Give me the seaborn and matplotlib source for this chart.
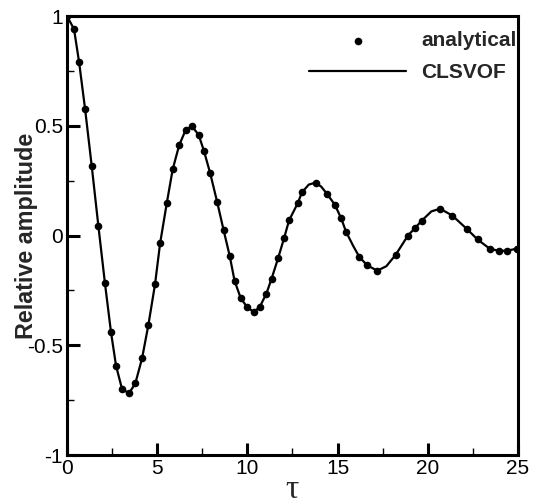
import numpy as np
import pandas as pd
import matplotlib
matplotlib.use("Agg")
import matplotlib.pyplot as plt
from matplotlib.ticker import MultipleLocator, FuncFormatter
import seaborn as sns

# analytical points
tau_analytical = [0, 0.39, 0.67, 1.0, 1.37, 1.74, 2.1, 2.44, 2.72, 3.05, 3.44, 3.79, 4.16,
                  4.51, 4.88, 5.16, 5.53, 5.86, 6.22, 6.58, 6.93, 7.3, 7.59, 7.94, 8.32,
                  8.68, 9.02, 9.29, 9.63, 9.99, 10.35, 10.68, 11.05, 11.34, 11.7, 12.04,
                  12.31, 12.79, 13.02, 13.78, 14.41, 14.85, 15.2, 15.47, 16.2, 16.64,
                  17.2, 18.22, 18.9, 19.29, 19.67, 20.68, 21.36, 22.15, 22.76, 23.43,
                  23.95, 24.4, 24.93]
amp_analytical = [1.0, 0.94, 0.79, 0.578, 0.317, 0.043, -0.215, -0.441, -0.594, -0.699,
                  -0.719, -0.673, -0.56, -0.408, -0.222, -0.036, 0.147, 0.302, 0.412,
                  0.481, 0.498, 0.458, 0.386, 0.283, 0.154, 0.025, -0.093, -0.207,
                  -0.285, -0.327, -0.348, -0.326, -0.265, -0.197, -0.104, -0.01, 0.069,
                  0.147, 0.196, 0.241, 0.19, 0.14, 0.078, 0.017, -0.097, -0.136, -0.16,
                  -0.088, 0.0, 0.034, 0.068, 0.122, 0.091, 0.031, -0.018, -0.06, -0.07,
                  -0.069, -0.06]

# CLSVOF curve
tau_clsvof = [0, 0.39, 0.67, 1.0, 1.37, 1.74, 2.1, 2.44, 2.72, 3.05, 3.44, 3.79, 4.16,
              4.51, 4.88, 5.16, 5.53, 5.86, 6.22, 6.58, 6.93, 7.3, 7.59, 7.94, 8.32,
              8.68, 9.02, 9.29, 9.63, 9.99, 10.35, 10.68, 11.05, 11.34, 11.7, 12.04,
              12.31, 12.79, 13.02, 13.4, 13.78, 14.1, 14.41, 14.85, 15.2, 15.47, 15.85,
              16.2, 16.64, 17.2, 17.7, 18.22, 18.9, 19.29, 19.67, 20.2, 20.68, 21.36,
              22.15, 22.76, 23.43, 23.95, 24.4, 24.93]
amp_clsvof = [1.0, 0.94, 0.79, 0.578, 0.317, 0.043, -0.215, -0.441, -0.594, -0.699,
              -0.719, -0.673, -0.56, -0.408, -0.222, -0.036, 0.147, 0.302, 0.412,
              0.481, 0.498, 0.458, 0.386, 0.283, 0.154, 0.025, -0.093, -0.207,
              -0.285, -0.327, -0.348, -0.326, -0.265, -0.197, -0.104, -0.01, 0.069,
              0.147, 0.196, 0.232, 0.241, 0.222, 0.19, 0.14, 0.078, 0.017, -0.045,
              -0.097, -0.136, -0.16, -0.14, -0.088, 0.0, 0.034, 0.068, 0.11, 0.122,
              0.091, 0.031, -0.018, -0.06, -0.07, -0.069, -0.06]

x_ticks = [0, 5, 10, 15, 20, 25]
y_ticks = [-1, -0.5, 0, 0.5, 1]

sns.set_theme(style="white")
plt.rcParams['font.family'] = ['Liberation Sans', 'DejaVu Sans']

fig = plt.figure(figsize=(5.36, 5.04), dpi=100)
ax = fig.add_axes([0.125, 0.0972, 0.8414, 0.8710])

df_a = pd.DataFrame({"tau": tau_analytical, "amp": amp_analytical})
df_c = pd.DataFrame({"tau": tau_clsvof, "amp": amp_clsvof})

sns.lineplot(data=df_c, x="tau", y="amp", ax=ax, color="black", linewidth=1.6,
             sort=False, estimator=None, label="CLSVOF", zorder=2)
sns.scatterplot(data=df_a, x="tau", y="amp", ax=ax, color="black", s=30,
                edgecolor="black", linewidth=0, label="analytical", zorder=3)

ax.set_xlim(0, 25)
ax.set_ylim(-1, 1)
ax.set_xticks(x_ticks)
ax.set_yticks(y_ticks)
ax.xaxis.set_minor_locator(MultipleLocator(2.5))
ax.yaxis.set_minor_locator(MultipleLocator(0.25))

def fmt(v, pos):
    if abs(v - round(v)) < 1e-9:
        return "%d" % round(v)
    return ("%g" % v)
ax.yaxis.set_major_formatter(FuncFormatter(fmt))
ax.xaxis.set_major_formatter(FuncFormatter(fmt))

ax.tick_params(axis="both", which="major", direction="in", length=9, width=2.2,
               labelsize=15, color="black", labelcolor="black", pad=3,
               top=False, right=False, left=True, bottom=True)
ax.tick_params(axis="both", which="minor", direction="in", length=5, width=1,
               color="black", top=False, right=False, left=True, bottom=True)

for sp in ax.spines.values():
    sp.set_linewidth(2.2)
    sp.set_color("black")

ax.set_xlabel("τ", family=["Liberation Serif", "DejaVu Serif"], fontsize=24,
              labelpad=-3)
ax.set_ylabel("Relative amplitude", fontsize=16.8, fontweight="bold", labelpad=-8)

handles, labels = ax.get_legend_handles_labels()
order = [labels.index("analytical"), labels.index("CLSVOF")]
leg = ax.legend([handles[i] for i in order], [labels[i] for i in order],
                loc="upper right", frameon=False, handlelength=4.66,
                handletextpad=0.72, labelspacing=0.6, borderaxespad=0.0,
                prop={"weight": "bold", "size": 15}, bbox_to_anchor=(1.015, 0.984))

fig.savefig("out.png", dpi=100)
